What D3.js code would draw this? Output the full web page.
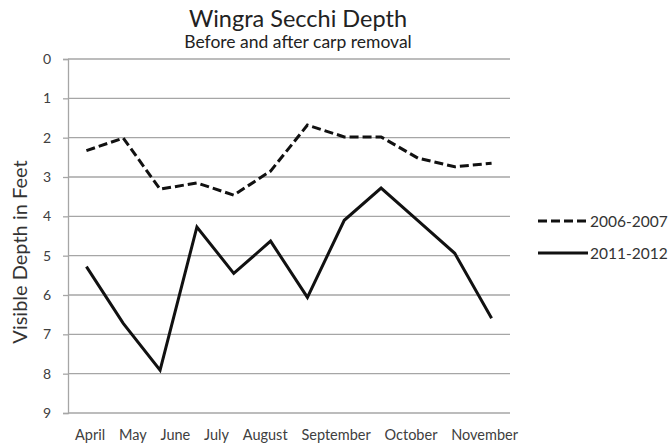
<!DOCTYPE html>
<html>
<head>
<meta charset="utf-8">
<script src="https://cdn.jsdelivr.net/npm/d3@7"></script>
<style>
  html, body { margin: 0; padding: 0; background: #fff; }
  svg { display: block; font-family: Lato, "Open Sans", sans-serif; }
</style>
</head>
<body>
<svg id="chart" width="672" height="444"></svg>
<script>
// ---- data ----
const pointIndex = [0,1,2,3,4,5,6,7,8,9,10,11];
const monthLabels = ["April","May","June","July","August","September","October","November"];
const series2006 = [2.33, 2.01, 3.31, 3.15, 3.46, 2.85, 1.68, 1.98, 1.98, 2.52, 2.74, 2.65];
const series2011 = [5.28, 6.72, 7.91, 4.27, 5.45, 4.63, 6.06, 4.10, 3.28, 4.11, 4.94, 6.59];
const seriesNames = ["2006-2007", "2011-2012"];
const yTicks = [0,1,2,3,4,5,6,7,8,9];

const svg = d3.select("#chart");
const margin = {left: 68, right: 162, top: 59, bottom: 31};
const W = 672, H = 444;

const x = d3.scalePoint().domain(pointIndex).range([margin.left, W - margin.right]).padding(0.5);
const y = d3.scaleLinear().domain([0, 9]).range([margin.top, H - margin.bottom]);

// gridlines
svg.append("g").selectAll("line").data(yTicks).join("line")
  .attr("x1", margin.left).attr("x2", W - margin.right)
  .attr("y1", d => y(d)).attr("y2", d => y(d))
  .attr("stroke", "#a6a6a6").attr("stroke-width", 1.3);

// y axis
const yAxis = svg.append("g").attr("transform", `translate(${margin.left},0)`)
  .call(d3.axisLeft(y).tickValues(yTicks).tickSize(5).tickPadding(12));
yAxis.select(".domain").attr("stroke", "#a6a6a6").attr("stroke-width", 1.3);
yAxis.selectAll(".tick line").attr("stroke", "#a6a6a6").attr("stroke-width", 1.3);
yAxis.selectAll(".tick text").attr("font-family", "Lato, sans-serif").attr("font-size", 14).attr("fill", "#404040");

// lines
const line = d3.line().x((d, i) => x(pointIndex[i])).y(d => y(d));
svg.append("path").datum(series2006).attr("d", line)
  .attr("fill", "none").attr("stroke", "#111").attr("stroke-width", 3)
  .attr("stroke-dasharray", "9,4").attr("stroke-linejoin", "miter");
svg.append("path").datum(series2011).attr("d", line)
  .attr("fill", "none").attr("stroke", "#111").attr("stroke-width", 3)
  .attr("stroke-linejoin", "miter");

// x labels laid out as a row
const xl = svg.append("g").attr("font-size", 14.5).attr("fill", "#404040");
const texts = xl.selectAll("text").data(monthLabels).join("text").text(d => d)
  .attr("y", 440);
const widths = [];
texts.each(function(){ widths.push(this.getComputedTextLength()); });
const startX = 75, endX = 518;
const total = d3.sum(widths);
const gap = (endX - startX - total) / (monthLabels.length - 1);
let cx = startX;
texts.each(function(d, i){ d3.select(this).attr("x", cx); cx += widths[i] + gap; });

// titles
svg.append("text").attr("x", 298).attr("y", 27).attr("text-anchor", "middle")
  .attr("font-size", 23.5).attr("fill", "#222").text("Wingra Secchi Depth");
svg.append("text").attr("x", 298).attr("y", 48).attr("text-anchor", "middle")
  .attr("font-size", 17.5).attr("fill", "#222").text("Before and after carp removal");

// y title
svg.append("text").attr("transform", `translate(27,${252}) rotate(-90)`)
  .attr("text-anchor", "middle").attr("font-size", 20).attr("fill", "#333")
  .text("Visible Depth in Feet");

// legend
const legend = svg.append("g");
const legY = [221, 253];
seriesNames.forEach((name, i) => {
  legend.append("line").attr("x1", 538).attr("x2", 588)
    .attr("y1", legY[i]).attr("y2", legY[i])
    .attr("stroke", "#111").attr("stroke-width", 3)
    .attr("stroke-dasharray", i === 0 ? "9,4" : null);
  legend.append("text").attr("x", 590).attr("y", legY[i] + 5.5)
    .attr("font-size", 15.5).attr("fill", "#333").text(name);
});
</script>
</body>
</html>
